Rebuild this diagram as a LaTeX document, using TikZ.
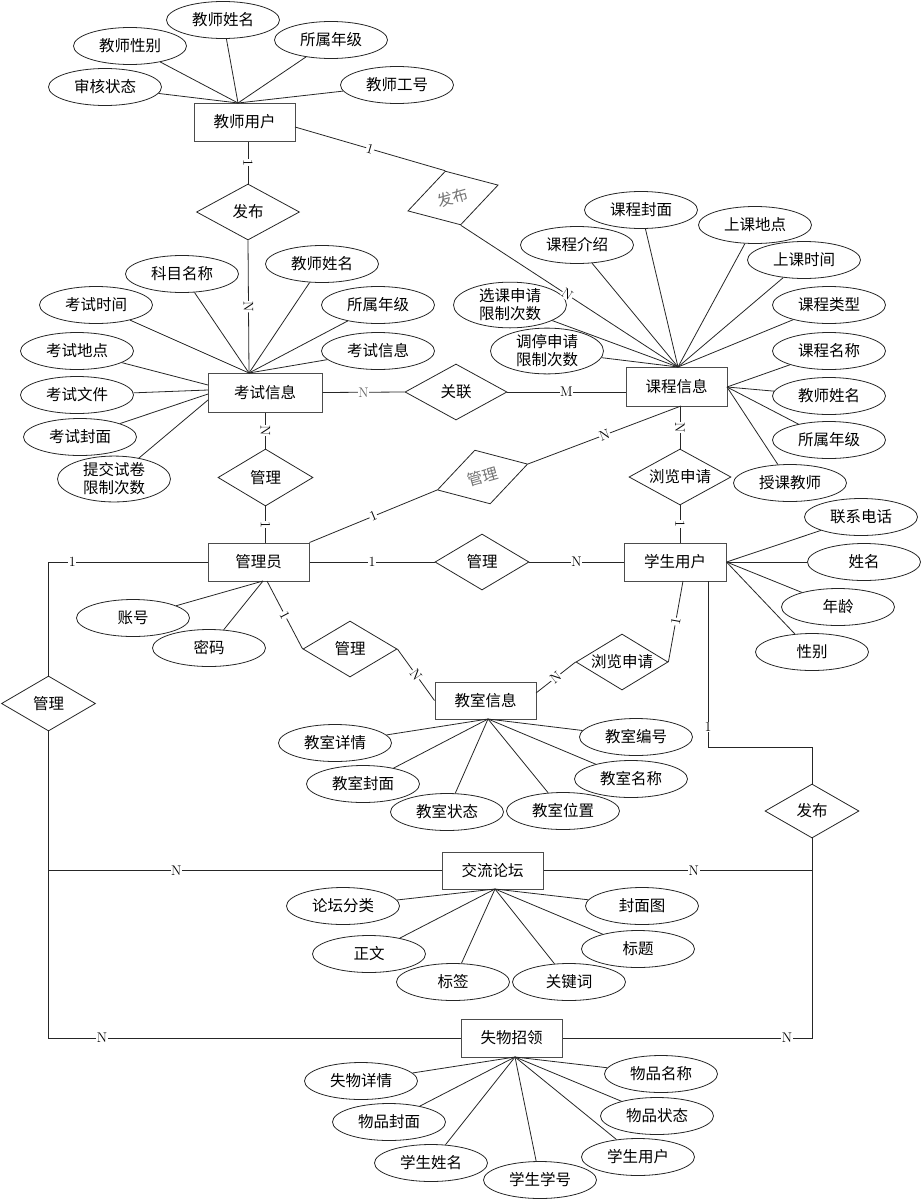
\documentclass[tikz,border=0pt]{standalone}
\usepackage{fontspec}
\newfontfamily\cjk{Noto Sans CJK SC}
\usetikzlibrary{shapes.geometric,calc}
\begin{document}
\begin{tikzpicture}[x=1pt,y=-1pt,
  cjkfont/.style={font=\cjk\fontsize{15.5}{18}\selectfont},
  ent/.style={cjkfont,draw=black!70,line width=1pt,rectangle,minimum width=101pt,minimum height=38pt,inner sep=0pt},
  attr/.style={cjkfont,draw=black!85,line width=0.8pt,ellipse,minimum width=113pt,minimum height=37pt,inner sep=0pt,align=center},
  rel/.style={cjkfont,draw=black!85,line width=0.8pt,diamond,aspect=1.7,minimum width=94pt,minimum height=56pt,inner sep=0pt},
  lnk/.style={line width=0.8pt,draw=black!85},
  lbl/.style={font=\fontsize{14}{14}\selectfont,fill=white,inner sep=0.5pt}
]
\useasboundingbox (0,0) rectangle (922,1200);

% ---------- entities ----------
\node[ent] (tu) at (244.5,122) {教师用户};
\node[ent,minimum width=114pt,minimum height=39pt] (ks) at (265,392.5) {考试信息};
\node[ent,minimum height=39pt] (kc) at (676.5,386.5) {课程信息};
\node[ent] (gly) at (258.5,562) {管理员};
\node[ent,minimum width=102pt] (xs) at (675,562) {学生用户};
\node[ent,minimum height=37pt] (js) at (485.5,700.5) {教室信息};
\node[ent,minimum height=37pt] (lt) at (492.5,870.5) {交流论坛};
\node[ent] (sw) at (511.5,1038) {失物招领};

% ---------- relationships ----------
\node[rel,minimum width=103pt] (d1) at (248,212) {发布};
\node[rel,rotate=16,text=black!55] (d2) at (453,198) {发布};
\node[rel,minimum width=102pt] (d3) at (456,392) {关联};
\node[rel,minimum width=95pt,minimum height=57pt] (d4) at (265.5,477.5) {管理};
\node[rel,rotate=16,text=black!55] (d5) at (482.5,477) {管理};
\node[rel,minimum width=102pt] (d6) at (680,477) {浏览申请};
\node[rel] (d7) at (482,562) {管理};
\node[rel] (d8) at (350,649) {管理};
\node[rel,minimum width=92pt] (d9) at (622,662) {浏览申请};
\node[rel,minimum height=55pt] (d10) at (48.5,703.5) {管理};
\node[rel,minimum height=54pt] (d11) at (812,811) {发布};

% ---------- attributes ----------
\node[attr] (t1) at (105,87) {审核状态};
\node[attr] (t2) at (130,46) {教师性别};
\node[attr] (t3) at (223,20) {教师姓名};
\node[attr] (t4) at (331,40) {所属年级};
\node[attr] (t5) at (397,85) {教师工号};

\node[attr] (k1) at (182,274) {科目名称};
\node[attr] (k2) at (322,264) {教师姓名};
\node[attr] (k3) at (96,305) {考试时间};
\node[attr] (k4) at (378,305) {所属年级};
\node[attr] (k5) at (77,351) {考试地点};
\node[attr] (k6) at (378,351) {考试信息};
\node[attr] (k7) at (77,395) {考试文件};
\node[attr] (k8) at (80,437) {考试封面};
\node[attr] (k9) at (114,479) {提交试卷\\限制次数};

\node[attr] (c1) at (641,210) {课程封面};
\node[attr] (c2) at (755,225) {上课地点};
\node[attr] (c3) at (577,245) {课程介绍};
\node[attr] (c4) at (804,260) {上课时间};
\node[attr] (c5) at (510,305) {选课申请\\限制次数};
\node[attr] (c6) at (829,305) {课程类型};
\node[attr] (c7) at (547,351) {调停申请\\限制次数};
\node[attr] (c8) at (829,351) {课程名称};
\node[attr] (c9) at (829,396) {教师姓名};
\node[attr] (c10) at (829,440) {所属年级};
\node[attr] (c11) at (790,483) {授课教师};

\node[attr] (s1) at (861,517) {联系电话};
\node[attr] (s2) at (864,562) {姓名};
\node[attr] (s3) at (838,607) {年龄};
\node[attr] (s4) at (812,652) {性别};

\node[attr] (g1) at (133,618) {账号};
\node[attr] (g2) at (209,648) {密码};

\node[attr] (j1) at (335,743) {教室详情};
\node[attr] (j2) at (363,784) {教室封面};
\node[attr] (j3) at (447,812) {教室状态};
\node[attr] (j4) at (563,811) {教室位置};
\node[attr] (j5) at (631,779) {教室名称};
\node[attr] (j6) at (636,737) {教室编号};

\node[attr] (f1) at (343,906) {论坛分类};
\node[attr] (f2) at (369,954) {正文};
\node[attr] (f3) at (453,982) {标签};
\node[attr] (f4) at (569,982) {关键词};
\node[attr] (f5) at (638,949) {标题};
\node[attr] (f6) at (642,906) {封面图};

\node[attr] (w1) at (361,1081) {失物详情};
\node[attr] (w2) at (389,1122) {物品封面};
\node[attr] (w3) at (431,1163) {学生姓名};
\node[attr] (w4) at (540,1180) {学生学号};
\node[attr] (w5) at (638,1157) {学生用户};
\node[attr] (w6) at (657,1116) {物品状态};
\node[attr] (w7) at (661,1074) {物品名称};

% ---------- connection points ----------
\coordinate (tuT) at (238,103);
\coordinate (tuR) at (295,127);
\coordinate (ksT) at (249,373);
\coordinate (ksL1) at (208,385);
\coordinate (ksL2) at (208,390);
\coordinate (ksL3) at (208,394);
\coordinate (ksL4) at (208,400);
\coordinate (kcT) at (678,367);
\coordinate (kcR) at (727,387);
\coordinate (kcB) at (681,406);
\coordinate (glyB) at (263,581);
\coordinate (glyB2) at (267,581);
\coordinate (xsB1) at (683,581);
\coordinate (xsB2) at (708,581);
\coordinate (jsB) at (488,719);
\coordinate (jsR) at (536,693);
\coordinate (ltB) at (495,889);
\coordinate (swB) at (515,1057);
\coordinate (bend1) at (708,747);
\coordinate (cl0) at (48.5,562);
\coordinate (cl1) at (48.5,870.5);
\coordinate (cl2) at (48.5,1038);
\coordinate (cr1) at (812,870.5);
\coordinate (cr2) at (812,1038);

% ---------- attribute links ----------
\foreach \a in {t1,t2,t3,t4,t5} \draw[lnk] (\a) -- (tuT);
\foreach \a in {k1,k2,k3,k4,k6} \draw[lnk] (\a) -- (ksT);
\draw[lnk] (k5) -- (ksL1);
\draw[lnk] (k7) -- (ksL2);
\draw[lnk] (k8) -- (ksL3);
\draw[lnk] (k9) -- (ksL4);
\foreach \a in {c1,c2,c3,c4,c5,c6,c7} \draw[lnk] (\a) -- (kcT);
\foreach \a in {c8,c9,c10,c11} \draw[lnk] (\a) -- (kcR);
\foreach \a in {s1,s2,s3,s4} \draw[lnk] (\a) -- (xs.east);
\foreach \a in {g1,g2} \draw[lnk] (\a) -- (glyB);
\foreach \a in {j1,j2,j3,j4,j5,j6} \draw[lnk] (\a) -- (jsB);
\foreach \a in {f1,f2,f3,f4,f5,f6} \draw[lnk] (\a) -- (ltB);
\foreach \a in {w1,w2,w3,w4,w5,w6,w7} \draw[lnk] (\a) -- (swB);

% ---------- relationship links ----------
\draw[lnk] (d1.north |- tu.south) -- node[lbl,sloped]{1} (d1.north);
\draw[lnk] (d1.south) -- node[lbl,sloped]{N} (ksT);
\draw[lnk] (tuR) -- node[lbl,sloped]{1} (d2.north);
\draw[lnk] (d2.south) -- node[lbl,sloped,pos=0.49]{N} (kcT);
\draw[lnk] (ks.east) -- node[lbl,text=black!60]{N} (d3.west);
\draw[lnk] (d3.east) -- node[lbl]{M} (d3.east -| kc.west);
\draw[lnk] (d4.north |- ks.south) -- node[lbl,sloped]{N} (d4.north);
\draw[lnk] (d4.south) -- node[lbl,sloped]{1} (d4.south |- gly.north);
\draw[lnk] (gly.north east) -- node[lbl,sloped]{1} (d5.west);
\draw[lnk] (d5.east) -- node[lbl,sloped]{N} (kcB);
\draw[lnk] (d6.north |- kc.south) -- node[lbl,sloped]{N} (d6.north);
\draw[lnk] (d6.south) -- node[lbl,sloped]{1} (d6.south |- xs.north);
\draw[lnk] (gly.east) -- node[lbl]{1} (d7.west);
\draw[lnk] (d7.east) -- node[lbl]{N} (xs.west);
\draw[lnk] (glyB2) -- node[lbl,sloped]{1} (d8.west);
\draw[lnk] (d8.east) -- node[lbl,sloped]{N} (js.west);
\draw[lnk] (d9.west) -- node[lbl,sloped]{N} (jsR);
\draw[lnk] (d9.east) -- node[lbl,sloped]{1} (xsB1);
\draw[lnk] (xsB2) -- node[lbl,pos=0.88]{1} (bend1) -| (d11.north);
\draw[lnk] (gly.west) -- node[lbl,pos=0.85]{1} (cl0) -- (d10.north);
\draw[lnk] (d10.south) -- (cl2) -- node[lbl,pos=0.13]{N} (sw.west);
\draw[lnk] (cl1) -- node[lbl,pos=0.325]{N} (lt.west);
\draw[lnk] (d11.south) -- (cr2) -- node[lbl,pos=0.1]{N} (sw.east);
\draw[lnk] (lt.east) -- node[lbl,pos=0.56]{N} (cr1);
\end{tikzpicture}
\end{document}
